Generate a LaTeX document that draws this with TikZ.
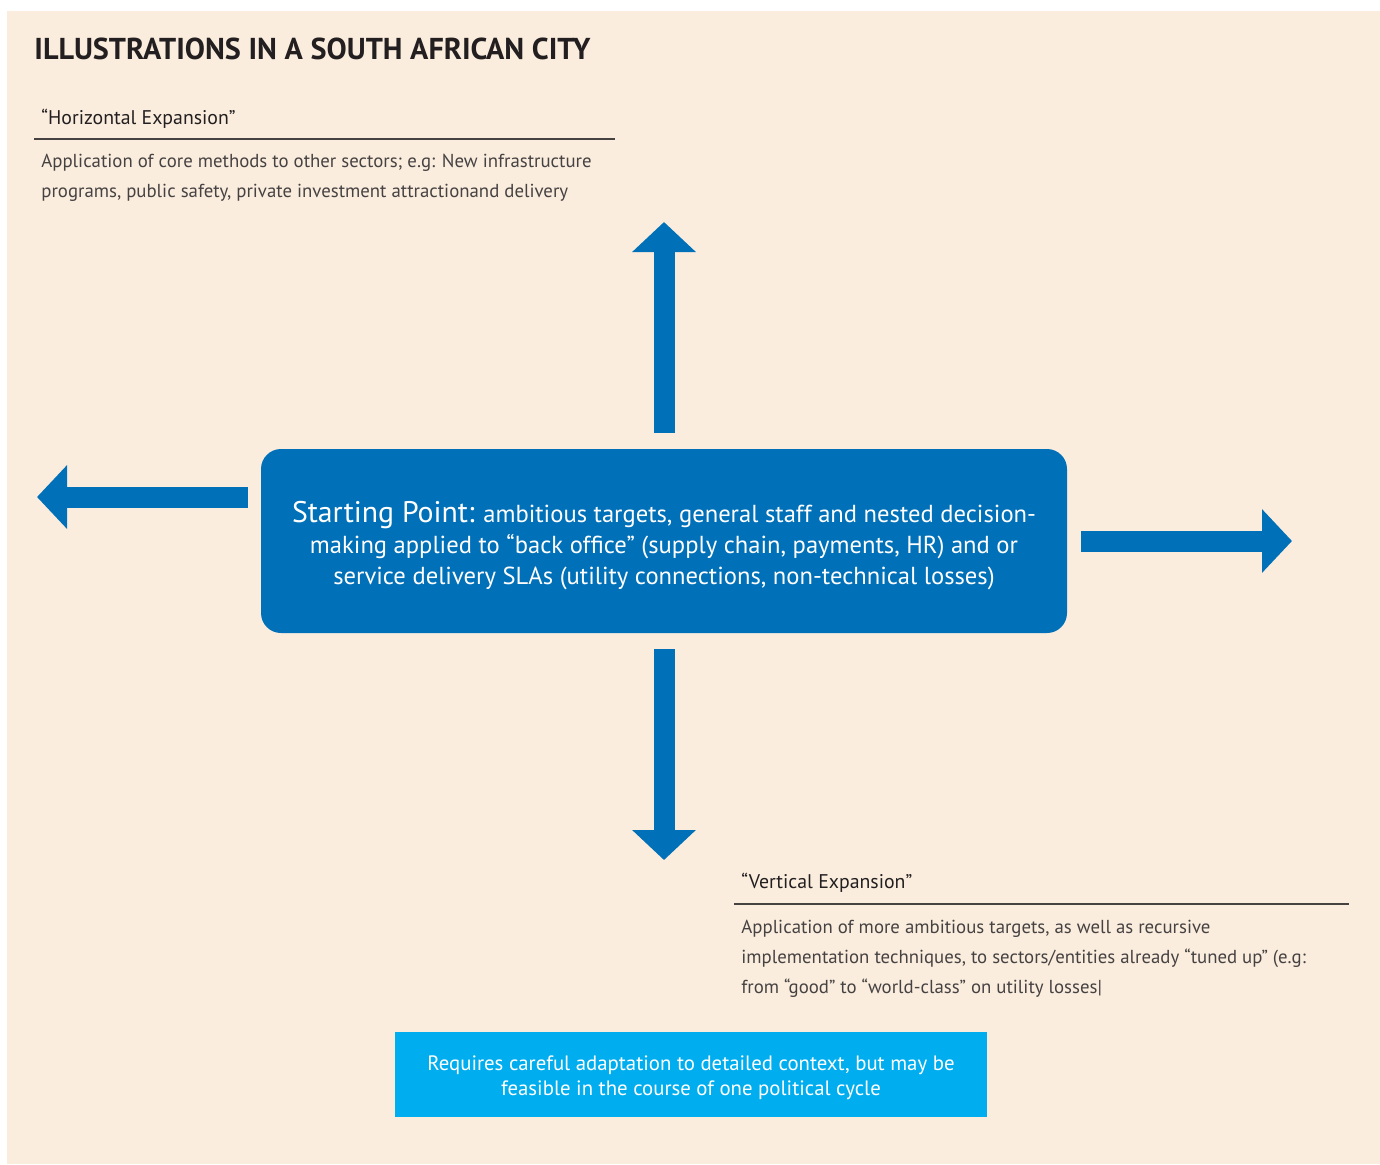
\documentclass[tikz,border=0pt]{standalone}
\usepackage{fontspec}
\setmainfont{PT Sans}
\usepackage{tikz}
\usetikzlibrary{positioning,arrows.meta}
\definecolor{pagebeige}{RGB}{250,237,222}
\definecolor{startblue}{RGB}{0,112,184}
\definecolor{noteblue}{RGB}{0,174,239}
\definecolor{inkdark}{RGB}{35,31,32}
\definecolor{inkgrey}{RGB}{70,66,66}
\tikzset{
  heading/.style={anchor=base west,inner sep=0pt,text=inkdark,font=\bfseries\fontsize{15.1}{18}\selectfont},
  subhead/.style={anchor=base west,inner sep=0pt,text=inkdark,font=\fontsize{9.9}{12}\selectfont},
  bodytext/.style={anchor=base west,inner sep=0pt,text=inkgrey,align=left,font=\fontsize{9.4}{15}\selectfont},
  startbox/.style={rectangle,rounded corners=10pt,fill=startblue,text=white,align=center,minimum width=403pt,minimum height=92pt,font=\fontsize{12.3}{15.5}\selectfont},
  notebox/.style={rectangle,fill=noteblue,text=white,align=center,minimum width=296pt,minimum height=42.5pt,font=\fontsize{10.4}{12.5}\selectfont},
  bigarrow/.style={-{Triangle[length=15pt,width=31pt]},line width=10.5pt,draw=startblue},
  headrule/.style={draw=inkgrey,line width=0.7pt}
}
\begin{document}
\begin{tikzpicture}[x=0.5pt,y=-0.5pt]
  \useasboundingbox (0,0) rectangle (1380,1164);
  \fill[pagebeige] (7,11) rectangle (1380,1164);
  % headings and notes (base = last line)
  \node[heading] (title) at (34,59) {ILLUSTRATIONS IN A SOUTH AFRICAN CITY};
  \node[subhead] (hhead) at (41,124) {“Horizontal Expansion”};
  \draw[headrule] (34,139) -- (615,139);
  \node[bodytext] (hbody) at (41,197) {Application of core methods to other sectors; e.g: New infrastructure\\programs, public safety, private investment attractionand delivery};
  \node[subhead] (vhead) at (741,888) {“Vertical Expansion”};
  \draw[headrule] (734,904) -- (1349,904);
  \node[bodytext] (vbody) at (741,993) {Application of more ambitious targets, as well as recursive\\implementation techniques, to sectors/entities already “tuned up” (e.g:\\from “good” to “world-class” on utility losses|};
  % centre box
  \node[startbox] (start) at (664,541) {\rule{0pt}{15pt}{\fontsize{14.9}{15.5}\selectfont Starting Point:} ambitious targets, general staff and nested decision-\\making applied to “back office” (supply chain, payments, HR) and or\\service delivery SLAs (utility connections, non-technical losses)};
  \node[notebox] (note) at (691,1074.5) {\rule{0pt}{10.5pt}Requires careful adaptation to detailed context, but may be\\feasible in the course of one political cycle};
  % arrows
  \coordinate (uptip) at (664,222);
  \coordinate (downtip) at (664,860);
  \coordinate (righttip) at (1292,541);
  \coordinate (lefttip) at (37,497);
  \coordinate (leftbase) at (248,497);
  \draw[bigarrow] ([yshift=8pt]start.north) -- (uptip);
  \draw[bigarrow] ([yshift=-8pt]start.south) -- (downtip);
  \draw[bigarrow] ([xshift=7pt]start.east) -- (righttip);
  \draw[bigarrow] (leftbase) -- (lefttip);
\end{tikzpicture}
\end{document}
